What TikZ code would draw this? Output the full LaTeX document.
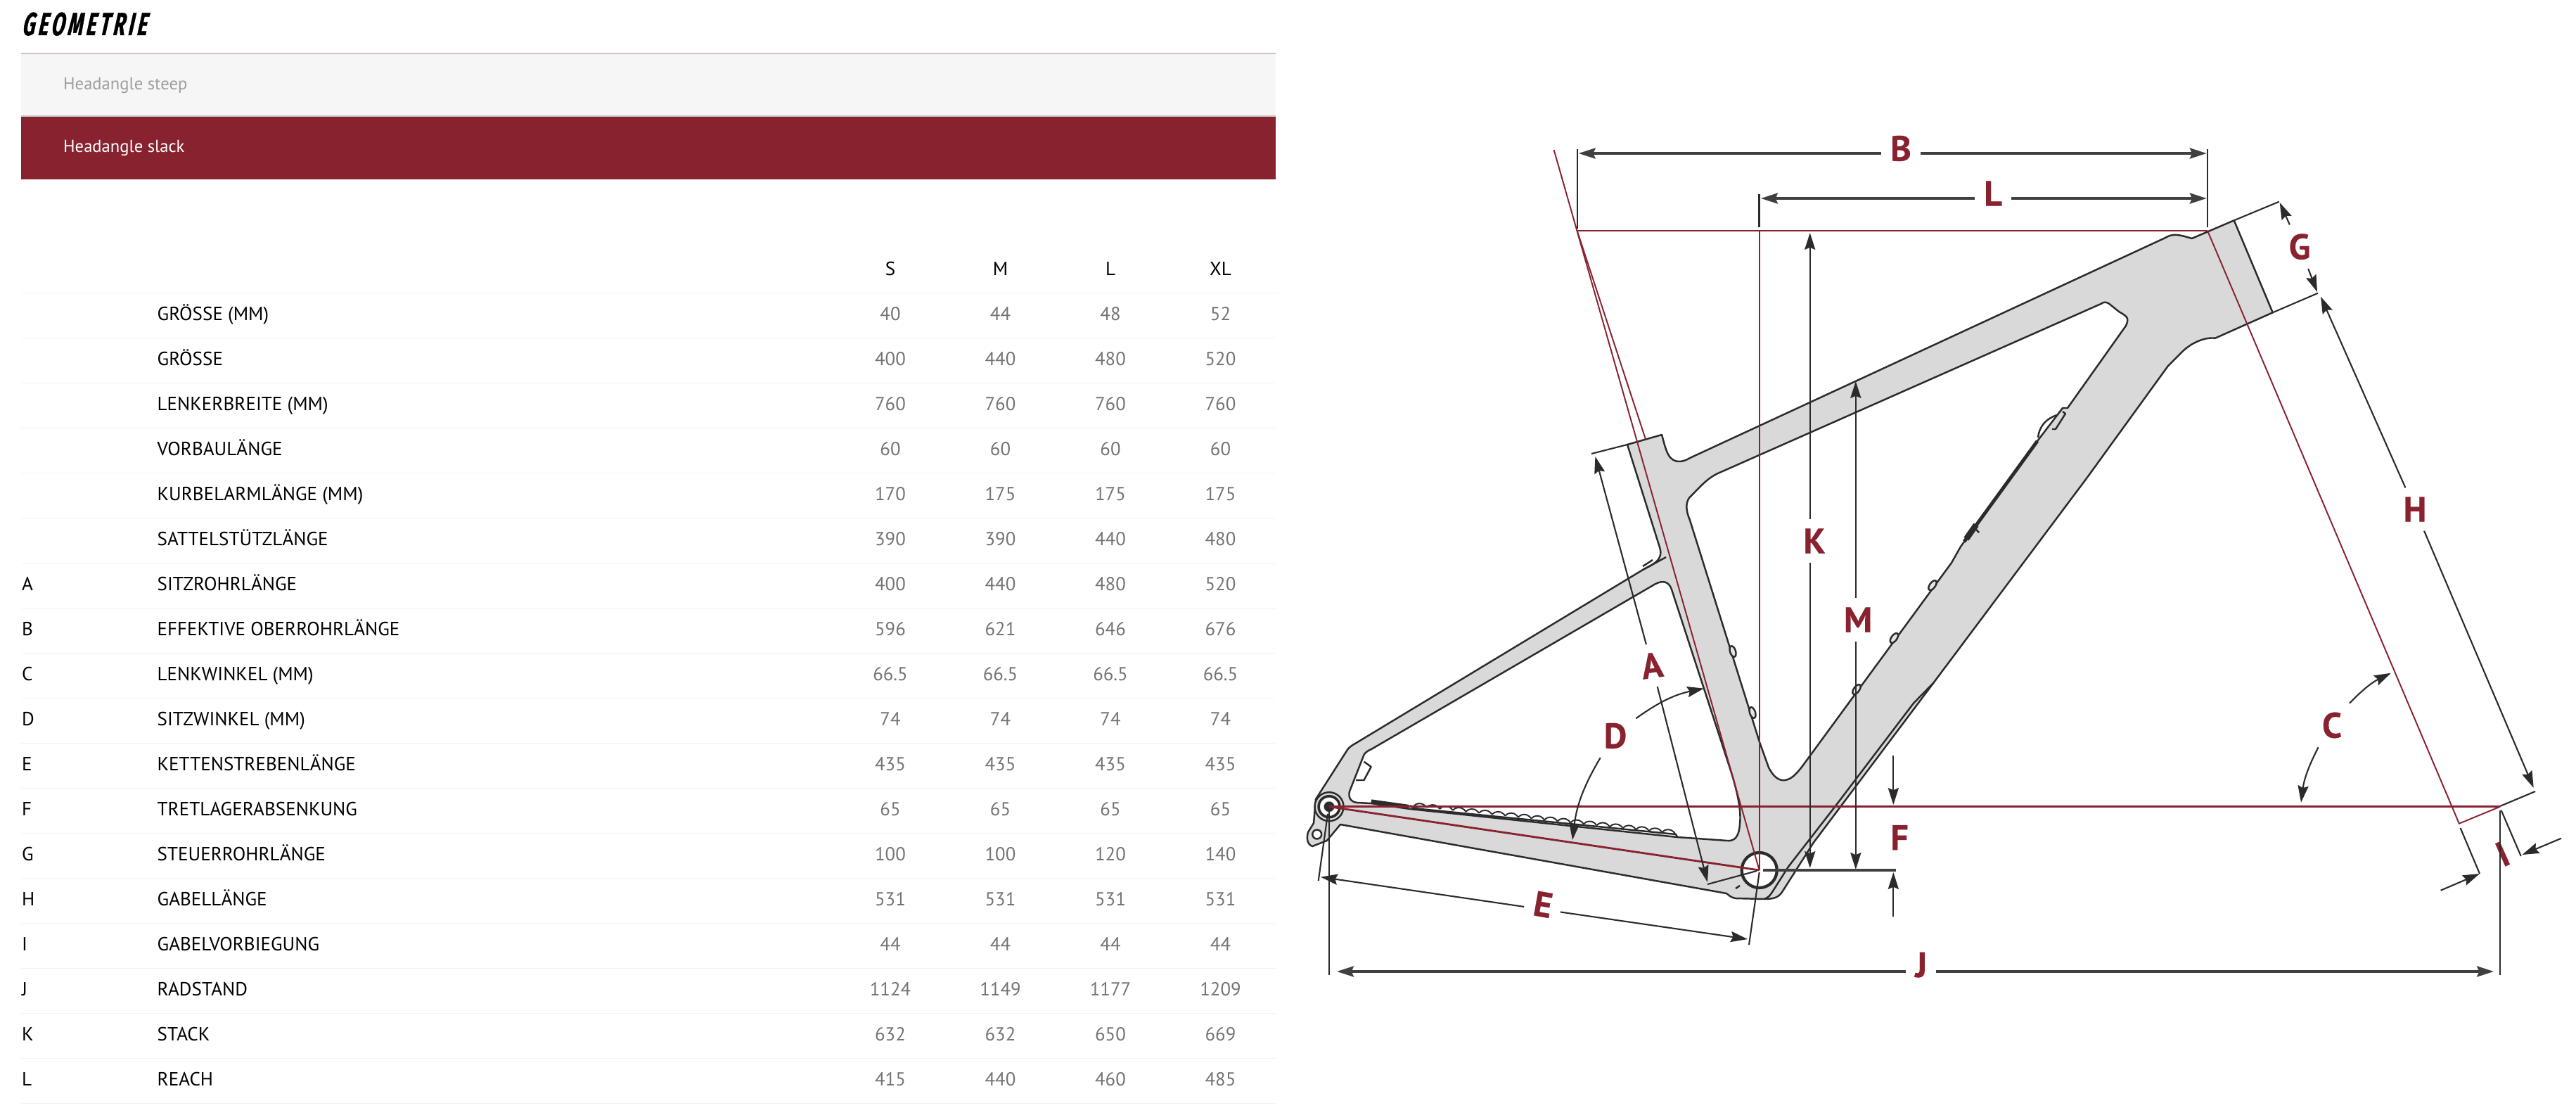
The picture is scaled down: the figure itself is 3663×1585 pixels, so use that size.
\documentclass[tikz,border=0pt]{standalone}
\usepackage{fontspec}
\setmainfont{PT Sans}
\newfontfamily\titlefont[FakeSlant=0.22,FakeStretch=0.6,LetterSpace=10,BoldFeatures={FakeBold=0.8}]{Fira Sans}
\newfontfamily\dimfont[BoldFeatures={FakeBold=0.5}]{PT Sans}
\usetikzlibrary{arrows.meta}
\definecolor{bikered}{HTML}{88222F}
\definecolor{framegrey}{HTML}{D9D9D9}
\definecolor{inkline}{HTML}{2B2B2B}
\tikzset{
    rowtext/.style={anchor=base west,inner sep=0pt,text=black,font=\fontsize{7.7}{9}\selectfont},
    valtext/.style={anchor=base,inner sep=0pt,text=black!55,font=\fontsize{7.6}{9}\selectfont},
    headtext/.style={anchor=base,inner sep=0pt,text=black,font=\fontsize{7.7}{9}\selectfont},
    dimlabel/.style={text=bikered,inner sep=3.5pt,font=\dimfont\fontsize{14.3}{16}\selectfont\bfseries},
    frameline/.style={draw=inkline,line width=0.7pt,line join=round},
    refline/.style={draw=bikered,line width=0.55pt},
    dimline/.style={draw=inkline,line width=0.6pt},
    dimthick/.style={draw=inkline!90,line width=0.9pt},
}
\begin{document}
\begin{tikzpicture}[x=0.01cm,y=-0.01cm,>={Stealth[length=6.8pt,width=4.3pt,inset=0.9pt]}]
                \useasboundingbox (0,0) rectangle (3663,1585);
                \node[anchor=base west,inner sep=0pt,font=\titlefont\fontsize{13}{15}\selectfont\bfseries] (title) at (30,50) {GEOMETRIE};
                \fill[black!3.5] (30,76)--(1814,76)--(1814,165)--(30,165)--cycle;
                \fill[bikered] (30,166)--(1814,166)--(1814,255)--(30,255)--cycle;
                \draw[bikered!30,line width=0.6pt] (30,76)--(1814,76);
                \draw[black!22,line width=0.5pt] (30,165)--(1814,165);
                \node[rowtext,text=black!38,font=\fontsize{7}{9}\selectfont] (steep) at (89.5,128) {Headangle steep};
                \node[rowtext,text=white,font=\fontsize{7}{9}\selectfont] (slack) at (89.5,217) {Headangle slack};
                \foreach \colx/\size in {1266/S,1422.5/M,1579/L,1735.5/XL}
                    \node[headtext] (head\size) at (\colx,391) {\size};
                \foreach \k in {0,...,18}
                    \draw[black!5,line width=0.5pt] (30,{416.5+64*\k})--(1814,{416.5+64*\k});
                \foreach \tag/\rowname/\va/\vb/\vc/\vd [count=\i from 0,evaluate=\i as \yb using 455+64*\i] in {
                    {}/GRÖSSE (MM)/40/44/48/52,
                    {}/GRÖSSE/400/440/480/520,
                    {}/LENKERBREITE (MM)/760/760/760/760,
                    {}/VORBAULÄNGE/60/60/60/60,
                    {}/KURBELARMLÄNGE (MM)/170/175/175/175,
                    {}/SATTELSTÜTZLÄNGE/390/390/440/480,
                    A/SITZROHRLÄNGE/400/440/480/520,
                    B/EFFEKTIVE OBERROHRLÄNGE/596/621/646/676,
                    C/LENKWINKEL (MM)/66.5/66.5/66.5/66.5,
                    D/SITZWINKEL (MM)/74/74/74/74,
                    E/KETTENSTREBENLÄNGE/435/435/435/435,
                    F/TRETLAGERABSENKUNG/65/65/65/65,
                    G/STEUERROHRLÄNGE/100/100/120/140,
                    H/GABELLÄNGE/531/531/531/531,
                    I/GABELVORBIEGUNG/44/44/44/44,
                    J/RADSTAND/1124/1149/1177/1209,
                    K/STACK/632/632/650/669,
                    L/REACH/415/440/460/485}{
                    \node[rowtext] (tag\i) at (30.3,\yb) {\tag};
                    \node[rowtext] (row\i) at (223,\yb) {\rowname};
                    \node[valtext] (sa\i) at (1266,\yb) {\va};
                    \node[valtext] (sb\i) at (1422.5,\yb) {\vb};
                    \node[valtext] (sc\i) at (1579,\yb) {\vc};
                    \node[valtext] (sd\i) at (1735.5,\yb) {\vd};
                }
                \coordinate (axle) at (1890,1146.7);
                \coordinate (bb) at (2501.7,1237);
                \coordinate (steerTop) at (3139,328);
                \coordinate (seatTop) at (2242.6,328);
                \coordinate (forkEnd) at (3496.8,1170.7);
                \coordinate (frontHub) at (3555,1146.7);
                \filldraw[frameline,fill=framegrey,even odd rule]
                    (2314,632)--(2363,618) .. controls (2369,640) and (2372,656) .. (2388,656) .. controls (2393,656) and (2398,654) .. (2403,651)
                    --(3079,338) .. controls (3090,331) and (3100,334) .. (3116.7,339)--(3176.7,313.3)--(3231.7,444.3)--(3150,480.7)
                    .. controls (3135,479) and (3115,487) .. (3100,503)--(3083,520)--(2967,680)--(2749.5,970.5)--(2578.6,1198)--(2536,1265)
                    .. controls (2530,1275) and (2525,1278) .. (2508,1278)--(2468,1277) .. controls (2461,1276) and (2458,1272) .. (2455,1270)
                    --(1906,1172)--(1886.7,1195)--(1866,1203) .. controls (1858,1200) and (1858,1190) .. (1860,1183)--(1868,1170)--(1871,1136)
                    --(1916.5,1065) .. controls (1919,1062) and (1923,1059) .. (1927,1057)--(2336,810) .. controls (2350,802) and (2366,797) .. (2360,778)--cycle
                    (2988,431.7)--(2441,673.7) .. controls (2425,682) and (2415,695) .. (2402.5,707) .. controls (2396,715) and (2398,728) .. (2402.5,738)
                    --(2502,1055)--(2515,1091) .. controls (2522,1105) and (2530,1110) .. (2538,1109) .. controls (2548,1108) and (2556,1098) .. (2563,1089)
                    --(2775,800)--(2788,777)--(2897,627)--(2933,580)--(2940,580)--(3023,463) .. controls (3028,452) and (3025,450) .. (3013,443)
                    --(2999,431.7) .. controls (2995,429) and (2991,429) .. (2988,431.7)--cycle
                    (2354,830) .. controls (2364,825) and (2373,826) .. (2377,838)--(2461,1095.5) .. controls (2472,1130) and (2476,1155) .. (2474,1171)
                    .. controls (2473,1190) and (2466,1196) .. (2456,1195)--(2385,1190)--(2005,1150)--(1950,1142)--(1930,1141)
                    .. controls (1920,1140) and (1917,1133) .. (1919,1125)--(1939.5,1073) .. controls (1941,1070) and (1945,1067) .. (1950,1065)--cycle;
                \draw[frameline] (2508,1278) .. controls (2515,1276) and (2517,1273) .. (2522,1265)--(2543,1232)--(2609,1147)--(2721,999.6)--(2749.5,970.5);
                \draw[frameline] (2336,810)--(2369,792);
                \draw[frameline] (2336,805)--(2350,796);
                \draw[frameline,line join=round] (1939.5,1082.7)--(1949.7,1090)--(1939.5,1109)--(1928,1109);
                \draw[frameline] (2468,1263)--(2474,1259);
                \draw[frameline,line width=1.4pt] (2793,770)--(2897,627);
                \draw[frameline,line width=2.4pt] (2796,766)--(2810,746);
                \draw[frameline] (2810,753)--(2814,757);
                \draw[frameline] (2898,622) .. controls (2900,605) and (2910,595) .. (2925,590);
                \draw[frameline] (2918,610)--(2923,610)--(2937,588)--(2933,585);
                \foreach \px/\py/\tilt in {2748/832/54,2693.4/907/54,2640/980/54,2464/926/-72,2492/1013/-72}
                    \draw[frameline,fill=framegrey!70,shift={(\px,\py)},rotate=\tilt] (0,0) ellipse (8 and 4);
                \draw[frameline,line width=1.5pt] (1950,1139)--(2003,1146.5);
                \draw[frameline] (2010,1149)--(2383,1186)--(2385,1190);
                \draw[frameline] (2005,1145)--(2010,1149);
                \foreach \n in {0,...,19}
                    \draw[frameline,line width=0.55pt] ({2010+18.6*\n},{1146+1.95*\n}) .. controls ({2014+18.6*\n},{1141+1.95*\n}) and ({2022+18.6*\n},{1141+1.95*\n}) .. ({2026+18.6*\n},{1145+1.95*\n})--({2028.6+18.6*\n},{1147.9+1.95*\n});
                \filldraw[frameline,fill=white] (1872.7,1186) circle (6.5);
                \filldraw[frameline,fill=framegrey] (axle) circle (20.5);
                \draw[frameline,line width=1pt] (axle) circle (15);
                \draw[white,line width=1.2pt] (axle) circle (10.5);
                \filldraw[frameline,fill=inkline] (axle) circle (6);
                \filldraw[white,draw=inkline,line width=1.2pt] (bb) circle (25);
                \draw[refline] (2209.6,213)--(bb);
                \draw[refline] (seatTop)--(2340,624.5);
                \draw[refline] (2501.7,328)--(bb);
                \draw[refline,line width=0.85pt] (seatTop)--(steerTop);
                \draw[refline,line width=0.8pt] (axle)--(frontHub);
                \draw[refline,line width=0.8pt] (axle)--(bb);
                \draw[refline] (steerTop)--(forkEnd)--(frontHub);
                \node[dimlabel] (labB) at (2703,211) {B};
                \node[dimlabel] (labL) at (2834,275) {L};
                \node[dimlabel] (labK) at (2580,769) {K};
                \node[dimlabel] (labM) at (2642,881) {M};
                \node[dimlabel] (labF) at (2701,1190.6) {F};
                \node[dimlabel] (labJ) at (2731.7,1371.7) {J};
                \node[dimlabel,rotate=8] (labA) at (2349,946) {A};
                \node[dimlabel] (labD) at (2297,1046) {D};
                \node[dimlabel,rotate=-10,text height=10pt,text depth=4pt] (labE) at (2193,1292.7) {E};
                \node[dimlabel] (labG) at (3270,350.7) {G};
                \node[dimlabel] (labH) at (3434,724) {H};
                \node[dimlabel] (labC) at (3316,1031) {C};
                \node[dimlabel,rotate=24] (labI) at (3558.5,1214) {I};
                \coordinate (tipBa) at (2244.7,218);
                \coordinate (tipBb) at (3137.7,218);
                \coordinate (tipLa) at (2504,282);
                \coordinate (tipLb) at (3137.7,282);
                \coordinate (tipJa) at (1901,1381);
                \coordinate (tipJb) at (3546,1381);
                \coordinate (tipKa) at (2573.7,331);
                \coordinate (tipKb) at (2573.7,1234);
                \coordinate (tipMa) at (2638.8,542);
                \coordinate (tipMb) at (2638.8,1236);
                \coordinate (tipAa) at (2268.4,649);
                \coordinate (tipAb) at (2428,1254);
                \coordinate (tipEa) at (1878,1246.7);
                \coordinate (tipEb) at (2485,1335);
                \coordinate (tipGa) at (3241.7,288);
                \coordinate (tipGb) at (3295,415);
                \coordinate (tipHa) at (3300,421.7);
                \coordinate (tipHb) at (3602.7,1120);
                \draw[dimthick,<-] (tipBa)--(labB.west |- tipBa);
                \draw[dimthick,->] (labB.east |- tipBb)--(tipBb);
                \draw[dimthick,<-] (tipLa)--(labL.west |- tipLa);
                \draw[dimthick,->] (labL.east |- tipLb)--(tipLb);
                \draw[dimthick,<-] (tipJa)--(labJ.west |- tipJa);
                \draw[dimthick,->] (labJ.east |- tipJb)--(tipJb);
                \draw[dimline,<-] (tipKa)--(labK.north -| tipKa);
                \draw[dimline,->] (labK.south -| tipKb)--(tipKb);
                \draw[dimline,<-] (tipMa)--(labM.north -| tipMa);
                \draw[dimline,->] (labM.south -| tipMb)--(tipMb);
                \draw[dimline,->] (labA)--(tipAa);
                \draw[dimline,->] (labA)--(tipAb);
                \draw[dimline,->] (labE)--(tipEa);
                \draw[dimline,->] (labE)--(tipEb);
                \draw[dimline,->] (labG)--(tipGa);
                \draw[dimline,->] (labG)--(tipGb);
                \draw[dimline,->] (labH)--(tipHa);
                \draw[dimline,->] (labH)--(tipHb);
                \draw[dimline,->] (labD) to[bend left=12] (2423,978.6);
                \draw[dimline,->] (labD) to[bend right=12] (2236,1194);
                \draw[dimline,->] (labC) to[bend left=10] (3400,956.7);
                \draw[dimline,->] (labC) to[bend right=10] (3272,1140.7);
                \draw[dimline,->] (2692.3,1074)--(2692.3,1144);
                \draw[dimline,->] (2692.3,1303)--(2692.3,1240);
                \draw[dimline,->] (3470.6,1265.7)--(3526,1242);
                \draw[dimline,->] (3642,1191.7)--(3586.5,1215);
                \draw[dimline] (2243,212)--(2243,325);
                \draw[dimline] (3139,212)--(3139,323);
                \draw[dimline] (2501.5,276)--(2501.5,323);
                \draw[dimline] (1890,1150)--(1890,1386);
                \draw[dimline] (3555,1152)--(3555,1386);
                \draw[dimline] (1888,1157)--(1874.7,1252);
                \draw[dimline] (2501.7,1240)--(2487,1343);
                \draw[dimline] (2428,1257)--(2498,1238);
                \draw[dimthick] (2507,1237)--(2696,1237);
                \draw[dimline] (2263,645)--(2314,632);
                \draw[dimline] (3176.7,313.3)--(3240.7,286.7);
                \draw[dimline] (3231.7,444.3)--(3296,416.7);
                \draw[dimline] (3555,1146)--(3605,1125);
                \draw[dimline] (3498.6,1177)--(3526,1242);
                \draw[dimline] (3556.7,1152)--(3584.7,1217);
            \end{tikzpicture}
\end{document}
